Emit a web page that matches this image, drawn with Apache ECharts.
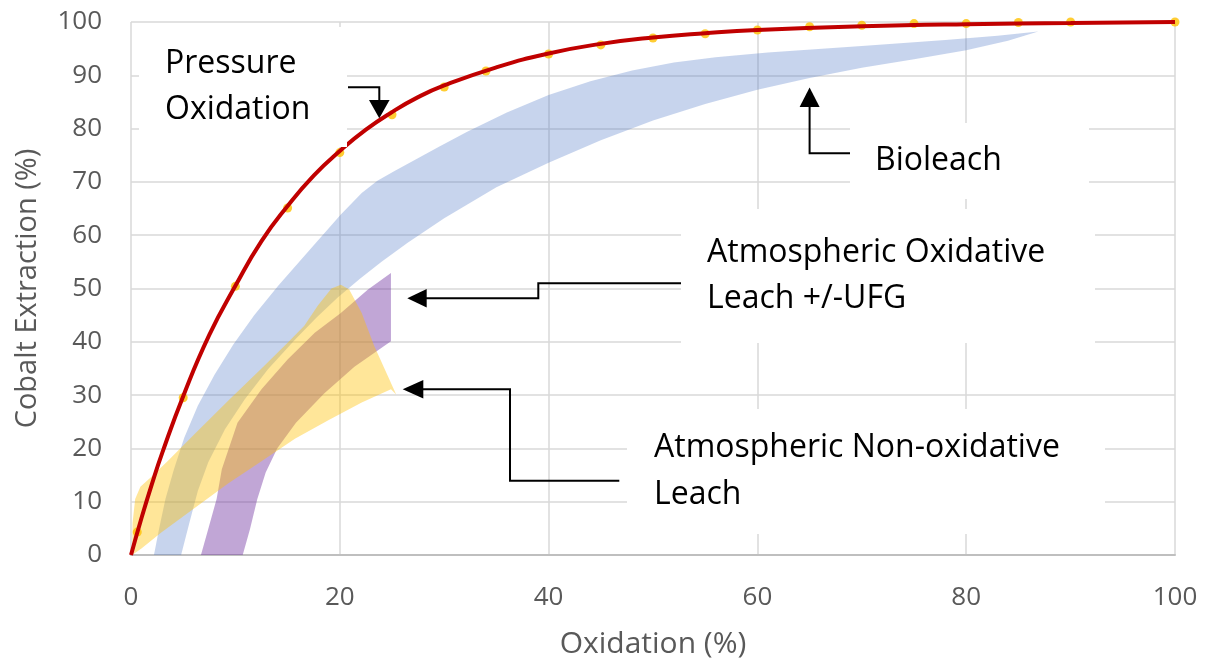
<!DOCTYPE html>
<html>
<head>
<meta charset="utf-8">
<script src="https://cdn.jsdelivr.net/npm/echarts@6/dist/echarts.min.js"></script>
<style>
  html, body { margin: 0; padding: 0; background: #fff; }
  #main { width: 1205px; height: 664px; }
</style>
</head>
<body>
<div id="main"></div>
<script>
// pressure oxidation - fitted curve
const fitX = [0, 1, 2, 3, 5, 7.5, 10, 12.5, 15, 17.5, 20, 22.5, 25, 27.5, 30, 35, 40, 45, 50, 55, 60, 70, 80, 90, 100];
const fitY = [0, 6.9, 13.3, 19.2, 29.8, 41.3, 50.5, 58.9, 65.5, 71.2, 75.8, 79.8, 83.1, 85.9, 88.1, 91.5, 94.1, 95.9, 97.1, 97.9, 98.5, 99.2, 99.6, 99.8, 100];

// pressure oxidation - test points
const testX = [0.6, 5, 10, 15, 20, 25, 30, 34, 40, 45, 50, 55, 60, 65, 70, 75, 80, 85, 90, 100];
const testY = [4.3, 29.5, 50.4, 65.1, 75.5, 82.6, 87.8, 90.8, 94, 95.7, 97, 97.8, 98.5, 99.1, 99.4, 99.7, 99.7, 99.9, 100, 100];

// bioleach envelope (upper edge left->right, lower edge left->right)
const bioUpper = [[2.2, 0], [2.7, 5], [3.3, 10.5], [4.1, 16], [5.1, 22], [6.4, 28], [8, 33.8], [9.8, 39.5], [11.8, 45],
  [14.1, 50.5], [17, 57], [20.1, 63.9], [22.1, 67.9], [23.6, 70.2], [25.2, 72], [27, 73.9], [29.5, 76.6], [32.2, 79.4],
  [36, 83], [40, 86.3], [44, 88.9], [48, 90.9], [52, 92.4], [56, 93.4], [61, 94.3], [70, 95.5], [78, 96.6], [83, 97.4], [86.9, 98.2]];
const bioLower = [[4.8, 0], [5.6, 6.1], [6.4, 12], [7.4, 17.4], [9, 23.6], [10.9, 29.2], [13.1, 34.8], [15.7, 40.4],
  [17.8, 44.6], [19.8, 48.3], [21.9, 51.8], [24, 55], [26.5, 58.6], [30, 63.2], [35, 69], [40, 73.6], [45, 77.8],
  [50, 81.5], [55, 84.6], [60, 87.3], [65, 89.5], [70, 91.4], [75, 93], [80, 94.7], [84, 96.5], [86.9, 98.2]];

// atmospheric oxidative leach +/-UFG envelope (outline)
const oxLeach = [[6.7, 0], [10.7, 0], [11.4, 4.9], [12.1, 10.5], [12.9, 15.5], [14, 20], [15.8, 24.8], [18.5, 30.3],
  [21.4, 35.3], [24.9, 40.1], [24.9, 52.9], [22.7, 49.8], [20.1, 45.4], [17.6, 41.7], [15, 36.7], [12.5, 31.1],
  [10.2, 24.8], [8.7, 16.1], [8.2, 10.5], [7.4, 4.9]];

// atmospheric non-oxidative leach envelope (outline)
const nonOxLeach = [[0.1, 0], [0.15, 6], [0.4, 10.5], [0.9, 12.8], [1.8, 14.4], [3.5, 17.6], [6, 22.5], [9.5, 29.3],
  [12.5, 35], [15, 39.8], [16.6, 43], [17.9, 46.8], [19.2, 50], [20.1, 50.7], [20.9, 49.8], [22.1, 45.4], [23.3, 39.2],
  [24.6, 33.6], [25.4, 30.1], [24.9, 31.1], [22.1, 28.6], [18.9, 25.3], [15.7, 21.8], [12.5, 17.6], [9.3, 13.4],
  [6.1, 8.8], [2.9, 4.2], [1, 1.2]];

const FONT = '"Open Sans", "Segoe UI", sans-serif';
const AXIS_GREY = '#595959';

function band(name, outline, color) {
  return {
    name: name,
    type: 'custom',
    coordinateSystem: 'cartesian2d',
    silent: true,
    data: [[0, 0]],
    renderItem: function (params, api) {
      return {
        type: 'polygon',
        shape: { points: outline.map(p => api.coord(p)) },
        style: { fill: color }
      };
    }
  };
}

// annotation helpers (pixel space)
function box(x, y, w, h) {
  return { type: 'rect', z: 50, silent: true, shape: { x: x, y: y, width: w, height: h }, style: { fill: '#fff' } };
}
function label(x, y, text) {
  return {
    type: 'text', z: 52, silent: true, x: x, y: y,
    style: { text: text, fill: '#000', font: '32px ' + FONT, lineHeight: 46.6, verticalAlign: 'top' }
  };
}
function leader(points) {
  return { type: 'polyline', z: 51, silent: true, shape: { points: points }, style: { stroke: '#000', lineWidth: 2, fill: null } };
}
function head(points) {
  return { type: 'polygon', z: 51, silent: true, shape: { points: points }, style: { fill: '#000' } };
}

var myChart = echarts.init(document.getElementById('main'));

myChart.setOption({
  animation: false,
  backgroundColor: '#fff',
  grid: { left: 131, right: 30, top: 22, bottom: 108, containLabel: false },
  xAxis: {
    type: 'value',
    min: 0, max: 100, interval: 20,
    name: 'Oxidation (%)',
    nameLocation: 'middle',
    nameGap: 74,
    nameTextStyle: { fontFamily: FONT, fontSize: 30, color: AXIS_GREY },
    axisLine: { show: true, lineStyle: { color: '#BFBFBF', width: 2 } },
    axisTick: { show: false },
    axisLabel: { fontFamily: FONT, fontSize: 26, color: AXIS_GREY, margin: 30 },
    splitLine: { show: true, lineStyle: { color: '#D9D9D9', width: 1.5 } }
  },
  yAxis: {
    type: 'value',
    min: 0, max: 100, interval: 10,
    name: 'Cobalt Extraction (%)',
    nameLocation: 'middle',
    nameGap: 89,
    nameTextStyle: { fontFamily: FONT, fontSize: 29, color: AXIS_GREY },
    axisLine: { show: false },
    axisTick: { show: false },
    axisLabel: { fontFamily: FONT, fontSize: 26, color: AXIS_GREY, margin: 29 },
    splitLine: { show: true, lineStyle: { color: '#D9D9D9', width: 1.5 } }
  },
  series: [
    band('Bioleach', bioUpper.concat(bioLower.slice().reverse()), 'rgba(68,114,196,0.3)'),
    {
      name: 'Pressure Oxidation (test)',
      type: 'scatter',
      symbol: 'circle',
      symbolSize: 9,
      itemStyle: { color: '#FFC000' },
      data: testX.map((x, i) => [x, testY[i]])
    },
    {
      name: 'Pressure Oxidation',
      type: 'line',
      smooth: true,
      showSymbol: false,
      lineStyle: { color: '#C00000', width: 4 },
      data: fitX.map((x, i) => [x, fitY[i]])
    },
    band('Atmospheric Oxidative Leach +/-UFG', oxLeach, 'rgba(112,48,160,0.43)'),
    band('Atmospheric Non-oxidative Leach', nonOxLeach, 'rgba(255,192,0,0.4)')
  ],
  graphic: [
    box(139, 27, 208, 120),
    box(850, 123, 239, 76),
    box(681, 209, 414, 134),
    box(627, 409, 478, 125),

    label(165, 40.3, 'Pressure\nOxidation'),
    label(875, 137.6, 'Bioleach'),
    label(707, 229.3, 'Atmospheric Oxidative\nLeach +/-UFG'),
    label(654, 424.9, 'Atmospheric Non-oxidative\nLeach'),

    leader([[348, 87.3], [379.3, 87.3], [379.3, 102]]),
    head([[369, 100], [389.6, 100], [379.3, 118.3]]),
    leader([[850, 153.3], [809.6, 153.3], [809.6, 105]]),
    head([[799.6, 107], [819.6, 107], [809.6, 87.5]]),
    leader([[681, 283.3], [538.3, 283.3], [538.3, 298.3], [425, 298.3]]),
    head([[426.7, 289], [426.7, 307.6], [407.3, 298.3]]),
    leader([[619.3, 480.7], [510, 480.7], [510, 389.3], [422, 389.3]]),
    head([[423.3, 380], [423.3, 398.6], [402.7, 389.3]])
  ]
});
</script>
</body>
</html>
